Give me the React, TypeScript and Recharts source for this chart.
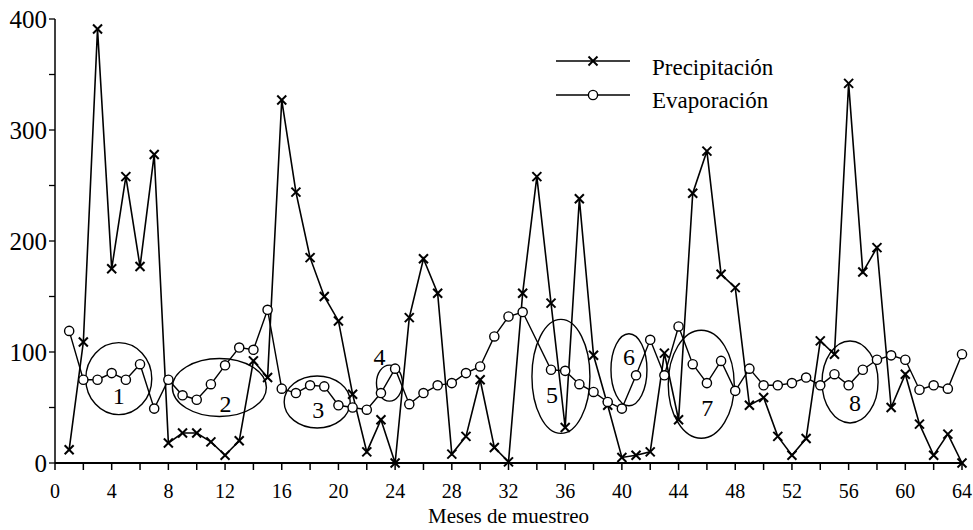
import React from "react";
import { LineChart, Line, XAxis, YAxis, ReferenceDot, Legend } from "recharts";

const FONT = "'Liberation Serif', 'DejaVu Serif', serif";

const MONTHS = [
  1, 2, 3, 4, 5, 6, 7, 8, 9, 10, 11, 12, 13, 14, 15, 16, 17, 18, 19, 20, 21, 22,
  23, 24, 25, 26, 27, 28, 29, 30, 31, 32, 33, 34, 35, 36, 37, 38, 39, 40, 41, 42,
  43, 44, 45, 46, 47, 48, 49, 50, 51, 52, 53, 54, 55, 56, 57, 58, 59, 60, 61, 62,
  63, 64,
];

const PRECIPITACION = [
  12, 109, 391, 175, 258, 177, 278, 18, 27, 27, 19, 7, 20, 92, 77, 327, 244, 185,
  150, 128, 62, 10, 39, 0, 131, 184, 153, 8, 24, 75, 14, 1, 153, 258, 144, 32,
  238, 97, 52, 5, 7, 10, 99, 39, 243, 281, 170, 158, 52, 59, 24, 7, 22, 110, 98,
  342, 172, 194, 50, 80, 35, 7, 26, 0,
];

// month 34 has no evaporation point in the original
const EVAPORACION: (number | null)[] = [
  119, 75, 75, 81, 75, 89, 49, 75, 61, 57, 71, 88, 104, 102, 138, 67, 63, 70, 69,
  52, 50, 48, 63, 85, 53, 63, 70, 72, 81, 87, 114, 132, 136, null, 84, 83, 71,
  64, 55, 49, 79, 111, 79, 123, 89, 72, 92, 65, 85, 70, 70, 72, 77, 70, 80, 70,
  84, 93, 97, 93, 66, 70, 67, 98,
];

const X_TICKS = [
  0, 2, 4, 6, 8, 10, 12, 14, 16, 18, 20, 22, 24, 26, 28, 30, 32, 34, 36, 38, 40,
  42, 44, 46, 48, 50, 52, 54, 56, 58, 60, 62, 64,
];
const Y_TICKS = [0, 50, 100, 150, 200, 250, 300, 350, 400];

// circled groups drawn over the series (centre in data units, radii in px)
const GROUPS = [
  { id: "1", month: 4.5, value: 76, rx: 33, ry: 36, dx: 0, dy: 17 },
  { id: "2", month: 11.6, value: 68, rx: 47, ry: 29, dx: 6, dy: 16 },
  { id: "3", month: 18.5, value: 55, rx: 33, ry: 26, dx: 1, dy: 8 },
  { id: "4", month: 23.6, value: 72, rx: 13, ry: 18, dx: -10, dy: -26 },
  { id: "5", month: 35.7, value: 78, rx: 29, ry: 57, dx: -9, dy: 19 },
  { id: "6", month: 40.5, value: 84, rx: 18, ry: 36, dx: 0, dy: -13 },
  { id: "7", month: 45.6, value: 71, rx: 33, ry: 54, dx: 6, dy: 24 },
  { id: "8", month: 56.1, value: 73, rx: 28, ry: 41, dx: 5, dy: 21 },
];

const data = MONTHS.map((m, i) => ({
  mes: m,
  precipitacion: PRECIPITACION[i],
  evaporacion: EVAPORACION[i],
}));

function Cross({ cx, cy }: { cx: number; cy: number }) {
  const s = 4.5;
  return (
    <g stroke="#000" strokeWidth={2}>
      <line x1={cx - s} y1={cy - s} x2={cx + s} y2={cy + s} />
      <line x1={cx - s} y1={cy + s} x2={cx + s} y2={cy - s} />
    </g>
  );
}

const crossDot = (props: any) => {
  const { cx, cy, index } = props;
  if (cx == null || cy == null) return <g key={`p${index}`} />;
  return <Cross key={`p${index}`} cx={cx} cy={cy} />;
};

const circleDot = (props: any) => {
  const { cx, cy, index } = props;
  if (cx == null || cy == null || props.value == null) return <g key={`e${index}`} />;
  return (
    <circle key={`e${index}`} cx={cx} cy={cy} r={4.6} fill="#fff" stroke="#000" strokeWidth={1.4} />
  );
};

function LegendBox() {
  return (
    <svg width={260} height={72} style={{ display: "block" }}>
      <line x1={6} y1={13} x2={80} y2={13} stroke="#000" strokeWidth={1.5} />
      <Cross cx={43} cy={13} />
      <text x={102} y={27} fontFamily={FONT} fontSize={23} fill="#000">
        Precipitación
      </text>
      <line x1={6} y1={47} x2={80} y2={47} stroke="#000" strokeWidth={1.3} />
      <circle cx={43} cy={47} r={4.6} fill="#fff" stroke="#000" strokeWidth={1.4} />
      <text x={102} y={60} fontFamily={FONT} fontSize={23} fill="#000">
        Evaporación
      </text>
    </svg>
  );
}

export default function App() {
  return (
    <div style={{ position: "absolute", left: 0, top: 0, width: 973, height: 530, background: "#fff" }}>
      <LineChart
        width={973}
        height={530}
        data={data}
        margin={{ top: 19, right: 11, bottom: 5, left: 8 }}
      >
        <XAxis
          dataKey="mes"
          type="number"
          domain={[0, 64]}
          ticks={X_TICKS}
          interval={0}
          tickFormatter={(v: number) => (v % 4 === 0 ? String(v) : "")}
          tickSize={7}
          tickMargin={14}
          height={62}
          stroke="#000"
          strokeWidth={2}
          tick={{ fill: "#000", fontSize: 20, fontFamily: FONT }}
          tickLine={{ stroke: "#000", strokeWidth: 1.5 }}
          label={{
            value: "Meses de muestreo",
            position: "insideBottom",
            offset: 2,
            fill: "#000",
            fontSize: 21,
            fontFamily: FONT,
          }}
        />
        <YAxis
          type="number"
          domain={[0, 400]}
          ticks={Y_TICKS}
          interval={0}
          tickFormatter={(v: number) => (v % 100 === 0 ? String(v) : "")}
          width={47}
          tickSize={6}
          tickMargin={2}
          stroke="#000"
          strokeWidth={1.5}
          tick={{ fill: "#000", fontSize: 25, fontFamily: FONT }}
          tickLine={{ stroke: "#000", strokeWidth: 1.3 }}
        />
        <Legend
          layout="vertical"
          align="center"
          verticalAlign="middle"
          wrapperStyle={{ position: "absolute", left: 550, top: 48, width: 260, height: 72 }}
          content={() => <LegendBox />}
        />
        <Line
          name="Precipitación"
          dataKey="precipitacion"
          stroke="#000"
          strokeWidth={1.6}
          dot={crossDot}
          activeDot={false}
          isAnimationActive={false}
        />
        <Line
          name="Evaporación"
          dataKey="evaporacion"
          stroke="#000"
          strokeWidth={1.4}
          dot={circleDot}
          activeDot={false}
          connectNulls
          isAnimationActive={false}
        />
        {GROUPS.map((g) => (
          <ReferenceDot
            key={g.id}
            x={g.month}
            y={g.value}
            ifOverflow="visible"
            shape={(p: any) => (
              <g>
                <ellipse cx={p.cx} cy={p.cy} rx={g.rx} ry={g.ry} fill="none" stroke="#000" strokeWidth={1.4} />
                <text
                  x={p.cx + g.dx}
                  y={p.cy + g.dy}
                  textAnchor="middle"
                  dominantBaseline="central"
                  fontFamily={FONT}
                  fontSize={24}
                  fill="#000"
                >
                  {g.id}
                </text>
              </g>
            )}
          />
        ))}
      </LineChart>
    </div>
  );
}
